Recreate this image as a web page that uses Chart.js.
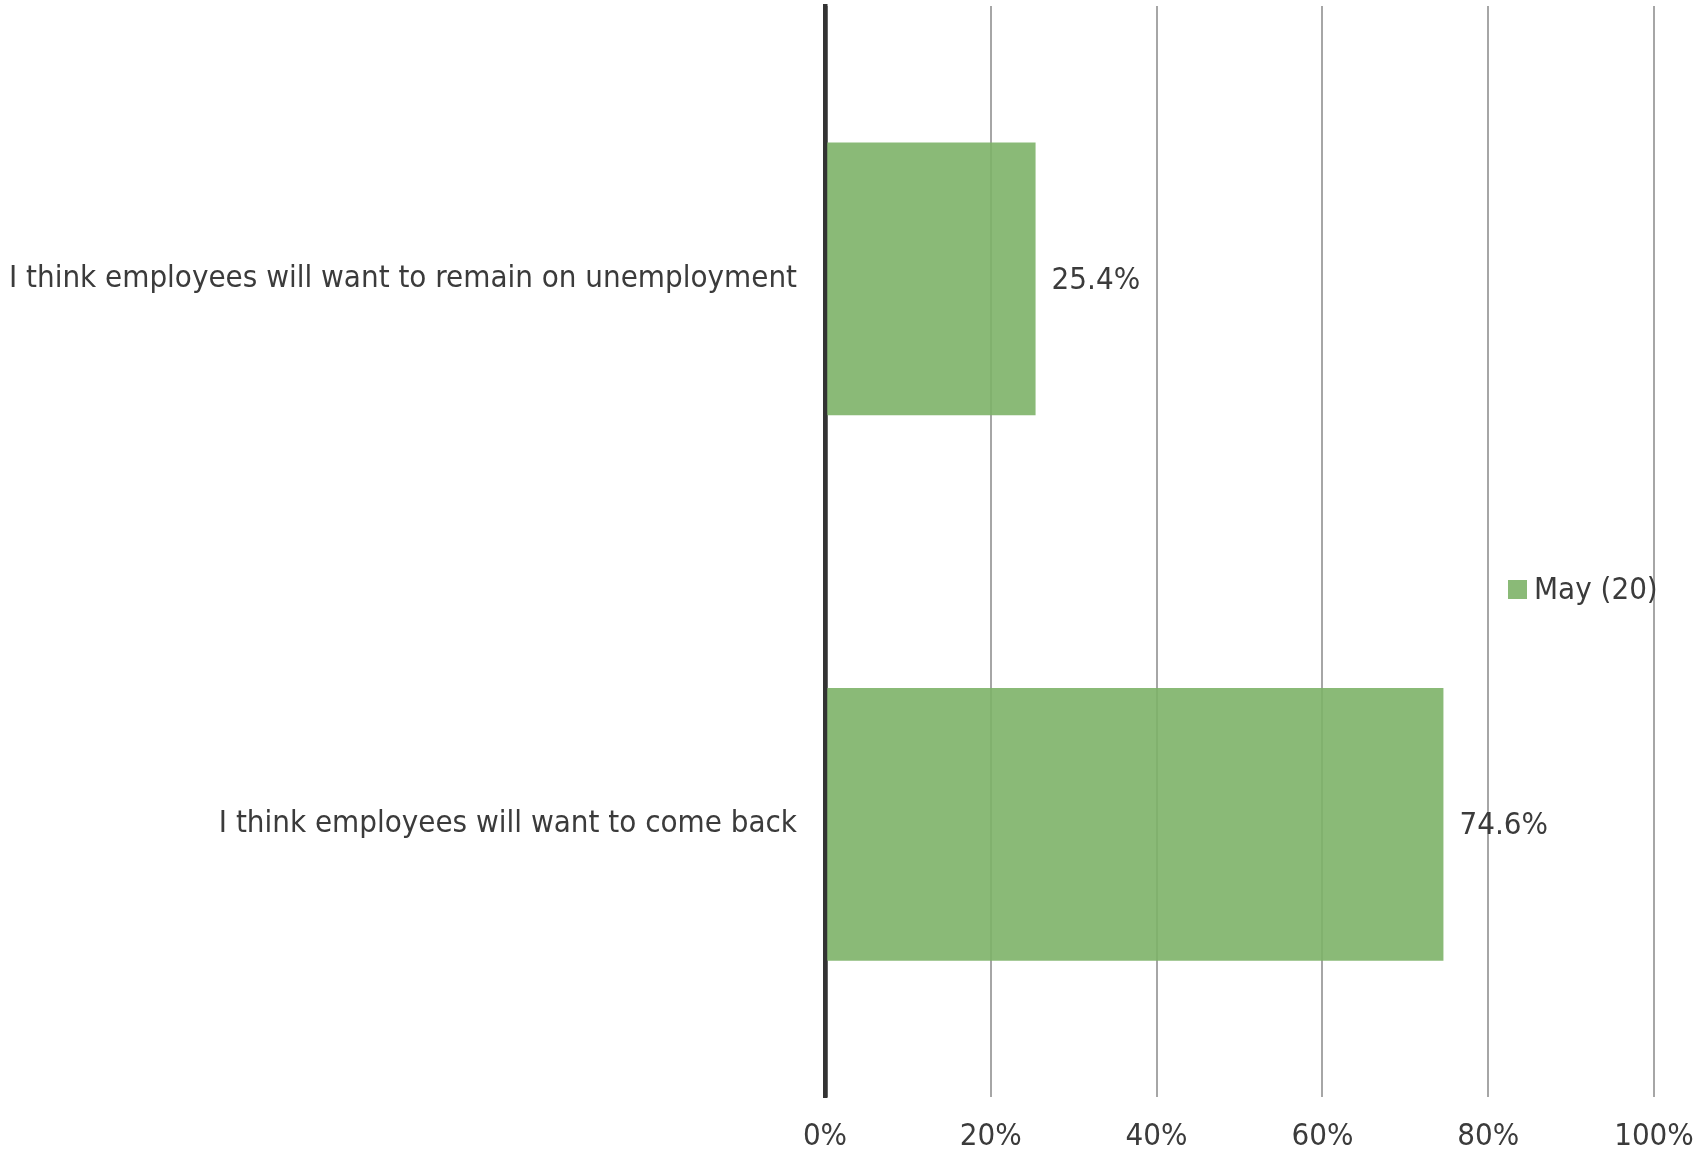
<!DOCTYPE html>
<html>
<head>
<meta charset="utf-8">
<title>Employees returning</title>
<script src="https://cdn.jsdelivr.net/npm/chart.js@4.4.1/dist/chart.umd.min.js"></script>
<style>
    html, body { margin: 0; padding: 0; background: #fff; }
    #wrap { width: 1707px; height: 1154px; }
</style>
</head>
<body>
<div id="wrap"><canvas id="surveyChart" width="1707" height="1154"></canvas></div>
<script>
// ===== DATA =====
const categories = [
    'I think employees will want to remain on unemployment',
    'I think employees will want to come back'
];
const seriesLabel = 'May (20)';
const seriesValues = [25.4, 74.6];
const tickValues = [0, 20, 40, 60, 80, 100];

const FONT = '"DejaVu Sans Condensed", "DejaVu Sans", sans-serif';
const FONT_SIZE = 31;
const TEXT = '#3b3b3b';
const BAR = 'rgba(125, 179, 104, 0.9)';

// value labels just past the end of each bar
const valueLabels = {
    id: 'valueLabels',
    afterDatasetsDraw(chart) {
        const ctx = chart.ctx;
        ctx.save();
        ctx.font = FONT_SIZE + 'px ' + FONT;
        ctx.fillStyle = TEXT;
        ctx.textAlign = 'left';
        ctx.textBaseline = 'middle';
        chart.getDatasetMeta(0).data.forEach((bar, i) => {
            ctx.fillText(seriesValues[i].toFixed(1) + '%', bar.x + 16, bar.y + 2);
        });
        ctx.restore();
    }
};

// legend sits on the right, over the plot
const sideLegend = {
    id: 'sideLegend',
    afterDraw(chart) {
        const ctx = chart.ctx;
        const ds = chart.data.datasets[0];
        const x = chart.chartArea.right - 146;
        const y = 590;
        ctx.save();
        ctx.fillStyle = ds.backgroundColor;
        ctx.fillRect(x, y - 10, 19, 19);
        ctx.font = FONT_SIZE + 'px ' + FONT;
        ctx.fillStyle = TEXT;
        ctx.textAlign = 'left';
        ctx.textBaseline = 'middle';
        ctx.fillText(ds.label, x + 26, y + 1);
        ctx.restore();
    }
};

const ctx = document.getElementById('surveyChart');
new Chart(ctx, {
    type: 'bar',
    data: {
        labels: categories,
        datasets: [{
            label: seriesLabel,
            data: seriesValues,
            backgroundColor: BAR,
            borderWidth: 0,
            barPercentage: 0.5,
            categoryPercentage: 1.0
        }]
    },
    options: {
        indexAxis: 'y',
        responsive: false,
        animation: false,
        layout: { padding: { top: 6, right: 53, bottom: 0, left: 0 } },
        plugins: {
            legend: { display: false },
            tooltip: { enabled: false }
        },
        scales: {
            x: {
                min: 0,
                max: 100,
                afterBuildTicks: (scale) => {
                    scale.ticks = tickValues.map(v => ({ value: v }));
                },
                afterFit: (scale) => {
                    scale.height = 57;
                    scale.paddingLeft = 0;
                    scale.paddingRight = 0;
                },
                border: { display: false },
                grid: {
                    drawTicks: false,
                    color: (c) => c.tick && c.tick.value === 0 ? '#333333' : '#a6a6a6',
                    lineWidth: (c) => c.tick && c.tick.value === 0 ? 4.5 : 2
                },
                ticks: {
                    padding: 21,
                    color: TEXT,
                    font: { family: FONT, size: FONT_SIZE },
                    callback: (v) => v + '%'
                }
            },
            y: {
                afterFit: (scale) => {
                    scale.width = 825;
                    scale.paddingTop = 0;
                    scale.paddingBottom = 0;
                },
                grid: { display: false, drawTicks: false },
                border: { display: true, color: '#333333', width: 4.5 },
                ticks: {
                    padding: 28,
                    color: TEXT,
                    font: { family: FONT, size: FONT_SIZE }
                }
            }
        }
    },
    plugins: [valueLabels, sideLegend]
});
</script>
</body>
</html>
